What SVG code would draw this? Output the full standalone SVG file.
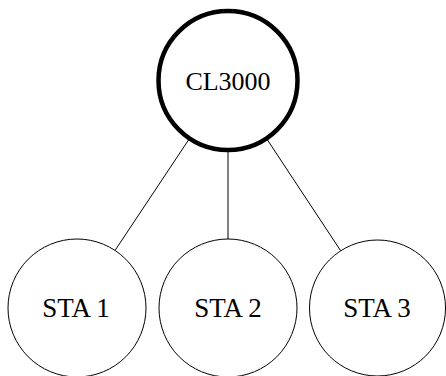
<svg xmlns="http://www.w3.org/2000/svg" width="446" height="376" viewBox="0 0 446 376">
<style>
.n{fill:#fff;stroke:#000;stroke-width:1}
.hub{fill:#fff;stroke:#000;stroke-width:4.5}
.t{font-family:"Liberation Serif",serif;font-size:26px;text-anchor:middle;fill:#000}
.s{font-size:27px}
.c{stroke:#000;stroke-width:1;fill:none}
</style>
<rect width="446" height="376" fill="#fff"/>
<g id="connectors">
<line class="c" x1="188.5" y1="140" x2="115" y2="250.5"/>
<line class="c" x1="228" y1="152" x2="228" y2="239"/>
<line class="c" x1="267.5" y1="140" x2="340.5" y2="250.5"/>
</g>
<g id="CL3000">
<circle class="hub" cx="228" cy="80.5" r="69.5"/>
<text class="t" x="228" y="90">CL3000</text>
</g>
<g id="STA1">
<circle class="n" cx="77" cy="308" r="69"/>
<text class="t s" x="76" y="317">STA 1</text>
</g>
<g id="STA2">
<circle class="n" cx="228" cy="308" r="69"/>
<text class="t s" x="228" y="317">STA 2</text>
</g>
<g id="STA3">
<circle class="n" cx="377.5" cy="308" r="68"/>
<text class="t s" x="377" y="317">STA 3</text>
</g>
</svg>
